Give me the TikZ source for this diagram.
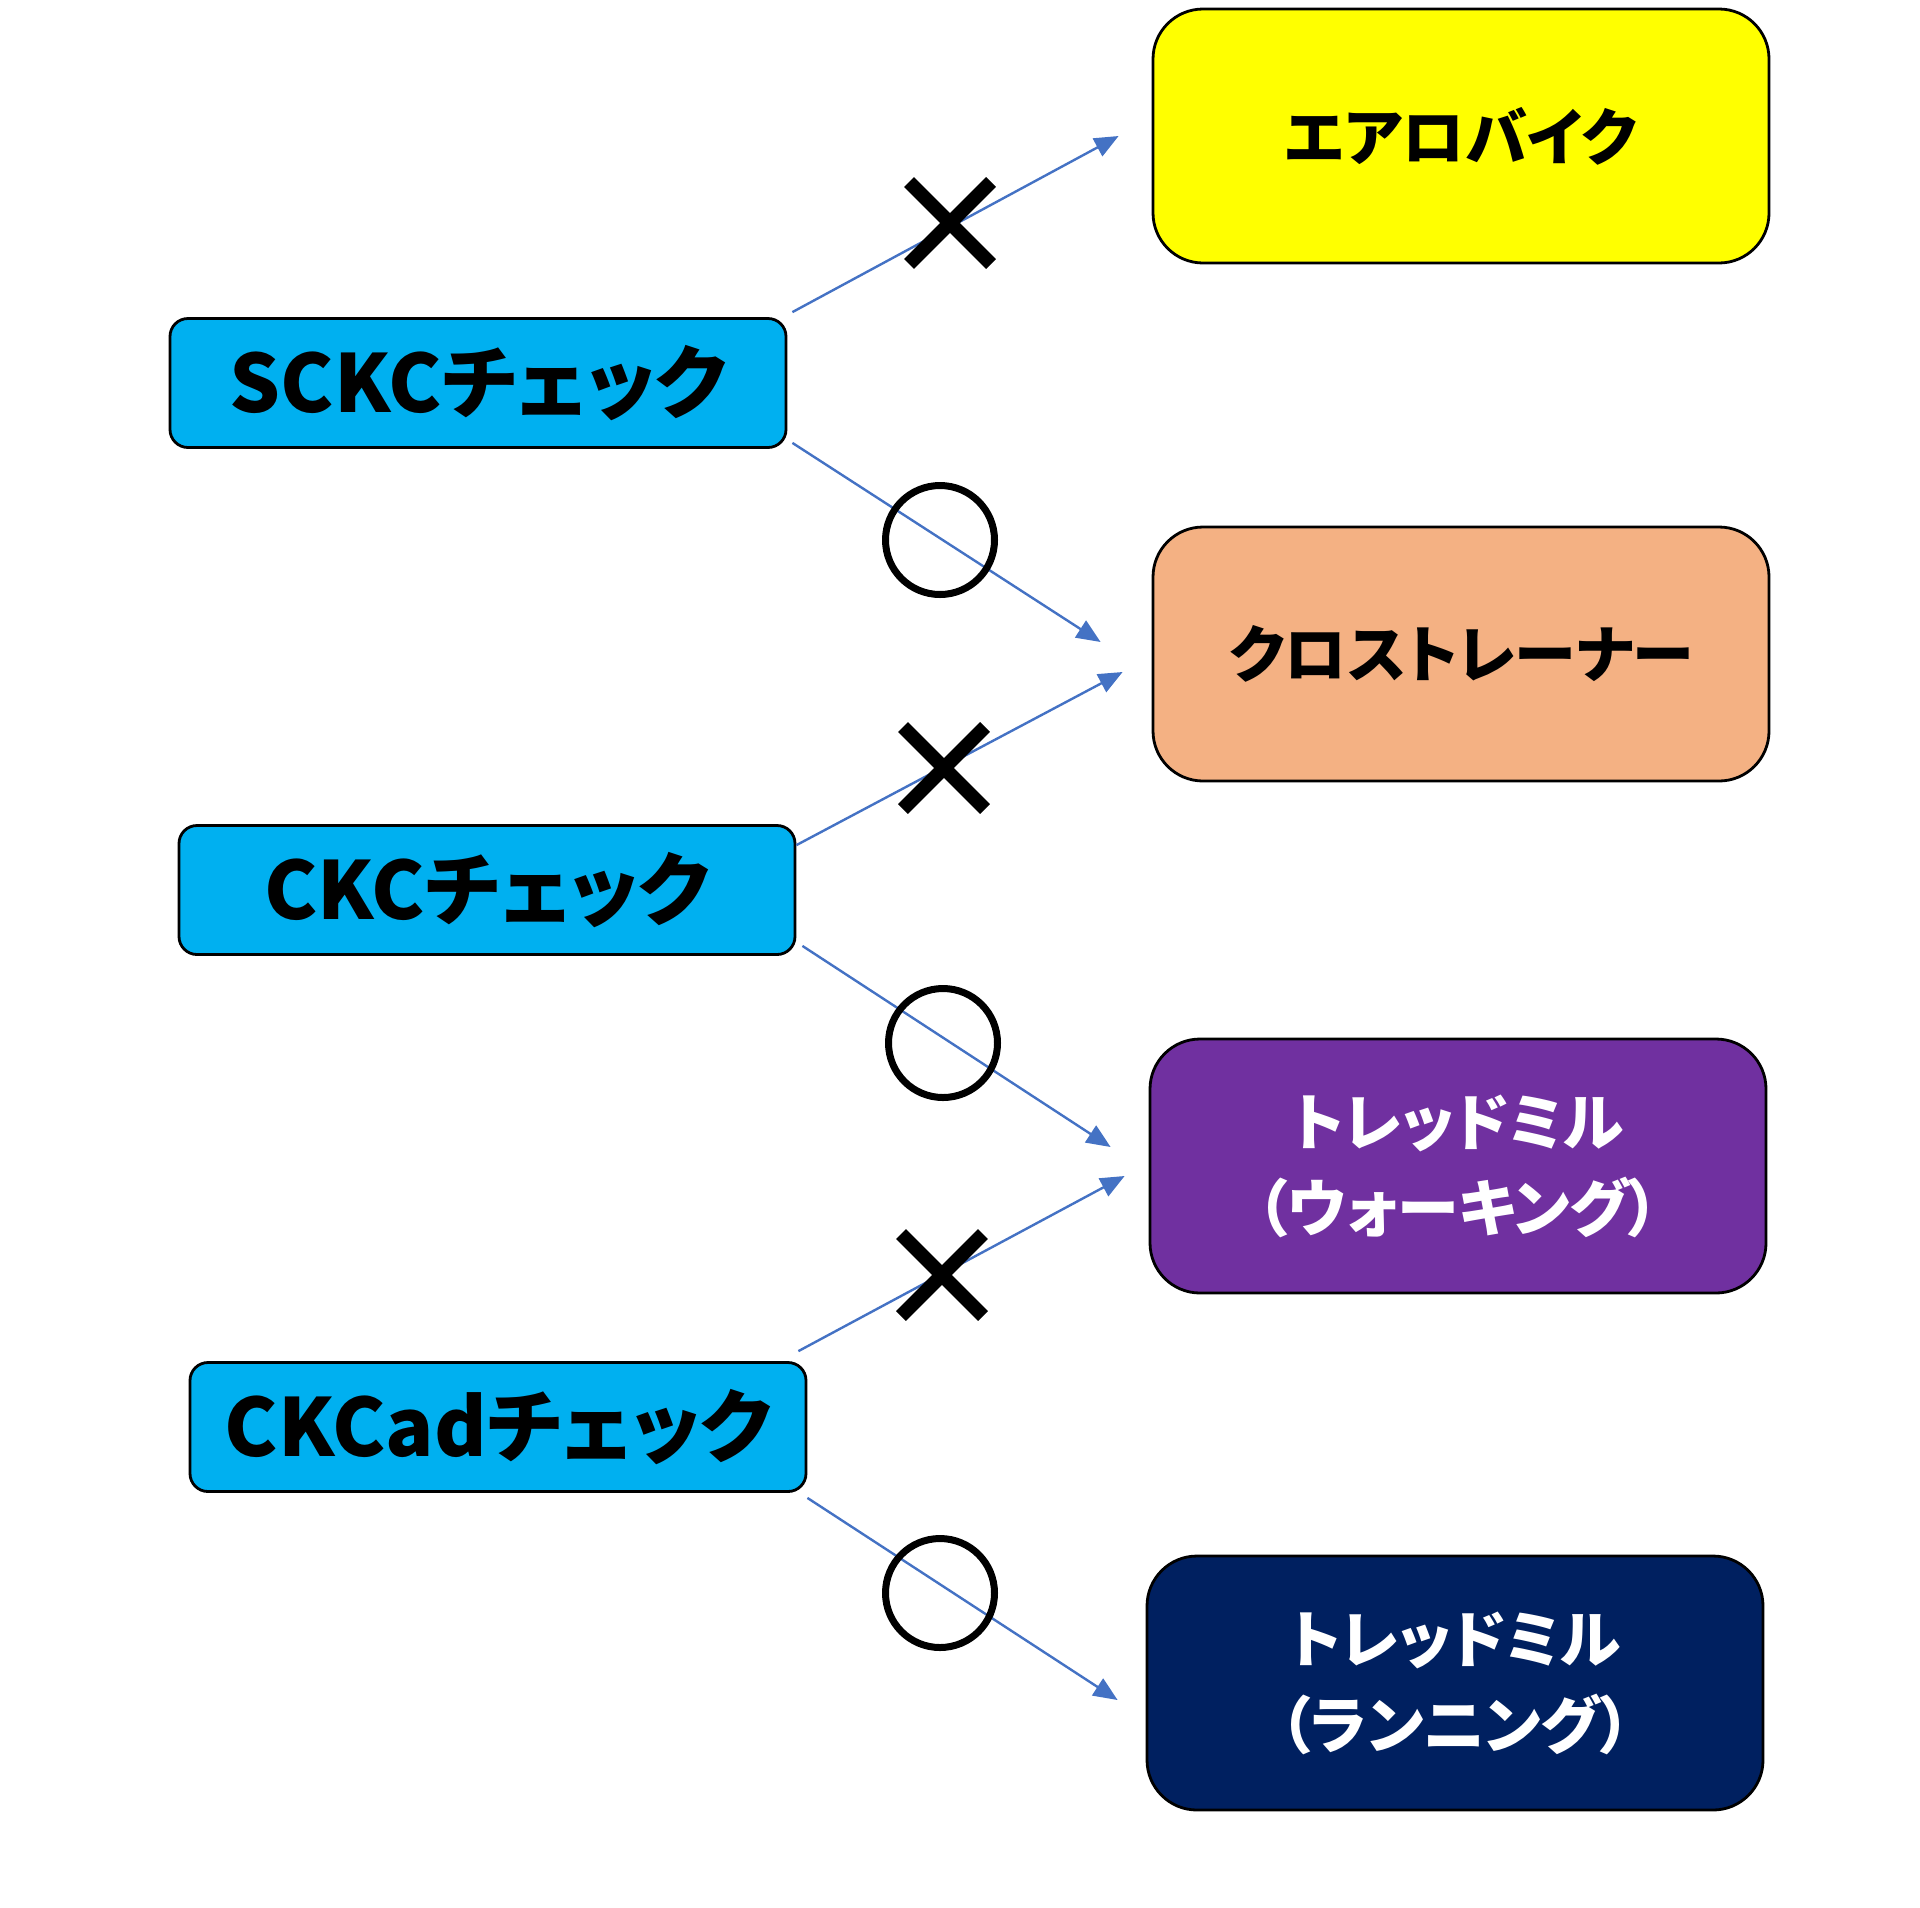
\documentclass[tikz,border=0pt]{standalone}
\usepackage{fontspec}
\newfontfamily\jp{Noto Sans CJK JP}[RawFeature=+palt]
\usetikzlibrary{arrows.meta,shapes.misc}
\definecolor{cyanbox}{HTML}{00B0F0}
\definecolor{yellowbox}{HTML}{FFFF00}
\definecolor{orangebox}{HTML}{F4B183}
\definecolor{purplebox}{HTML}{7030A0}
\definecolor{navybox}{HTML}{002060}
\definecolor{arrowblue}{HTML}{4472C4}
\tikzset{
  checkbox/.style={draw=black, line width=1.4pt, fill=cyanbox, rounded corners=9pt,
    minimum width=308pt, minimum height=64.5pt, inner sep=0pt,
    font=\jp\bfseries\fontsize{40}{46}\selectfont, text=black},
  machine/.style={draw=black, line width=1.4pt, rounded corners=25pt,
    minimum width=308pt, minimum height=127pt, inner sep=0pt, align=center,
    font=\jp\bfseries\fontsize{31}{43}\selectfont},
  arr/.style={draw=arrowblue, line width=1.2pt, -{Triangle[length=12pt,width=10pt]}},
  ngmark/.style={cross out, draw=black, line width=7pt, minimum size=34pt, inner sep=0pt},
  okmark/.style={circle, draw=black, line width=3.5pt, minimum size=54.5pt, inner sep=0pt}
}
\begin{document}
\begin{tikzpicture}[x=0.5pt,y=-0.5pt]
\useasboundingbox (0,0) rectangle (1920,1907);
% left boxes
\node[checkbox] (sckc) at (478,383) {SCKCチェック};
\node[checkbox] (ckc) at (487,890) {CKCチェック};
\node[checkbox] (ckcad) at (498,1427) {CKCadチェック};
% right boxes
\node[machine, fill=yellowbox, text=black] (aero) at (1461,136) {エアロバイク};
\node[machine, fill=orangebox, text=black] (cross) at (1461,654) {クロストレーナー};
\node[machine, fill=purplebox, text=white] (walk) at (1458,1166) {トレッドミル\\（ウォーキング）};
\node[machine, fill=navybox, text=white] (run) at (1455,1683) {トレッドミル\\（ランニング）};
% arrows
\draw[arr] ([shift={(5,-5)}]sckc.north east) -- ([shift={(-33,0)}]aero.west);
\draw[arr] ([shift={(5,-6)}]sckc.south east) -- ([shift={(-51,-12)}]cross.west);
\draw[arr] ([shift={(0,21)}]ckc.north east) -- ([shift={(-29,18)}]cross.west);
\draw[arr] ([shift={(6,-10)}]ckc.south east) -- ([shift={(-38,-19)}]walk.west);
\draw[arr] ([shift={(-9,-10)}]ckcad.north east) -- ([shift={(-24,10)}]walk.west);
\draw[arr] ([shift={(0,5)}]ckcad.south east) -- ([shift={(-28,17)}]run.west);
% marks
\node[ngmark] (x1) at (950,223) {};
\node[okmark] (o1) at (940,540) {};
\node[ngmark] (x2) at (944,768) {};
\node[okmark] (o2) at (943,1043) {};
\node[ngmark] (x3) at (942,1275) {};
\node[okmark] (o3) at (940,1593) {};
\end{tikzpicture}
\end{document}
